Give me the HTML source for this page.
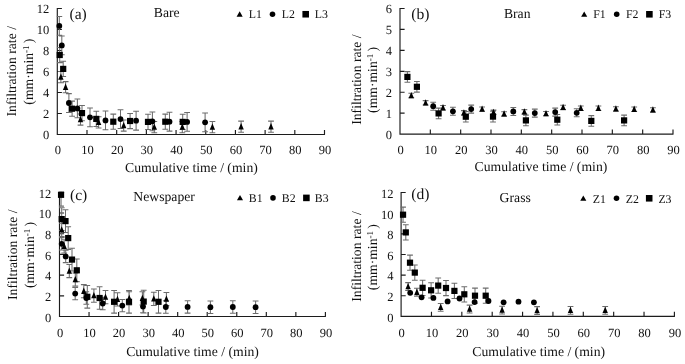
<!DOCTYPE html>
<html lang="en"><head><meta charset="utf-8"><title>Infiltration rate vs cumulative time</title>
<style>html,body{margin:0;padding:0;background:#fff;}body{width:685px;height:364px;overflow:hidden;}svg{display:block;will-change:transform;filter:grayscale(1);}text{font-family:"Liberation Serif", "Times New Roman", serif;font-size:13.7px;fill:#111;text-rendering:geometricPrecision;}.tag{font-size:15.6px;}.leg{font-size:11.8px;}.tk{font-size:12.5px;}.sup{font-size:9px;}</style></head><body>
<svg width="685" height="364" viewBox="0 0 685 364">
<rect width="685" height="364" fill="#fff"/>
<g id="panel-a">
<path d="M57.30 8.00V134.50H325.00M57.30 113.50h4.6M57.30 92.50h4.6M57.30 71.50h4.6M57.30 50.50h4.6M57.30 29.50h4.6M57.30 8.50h4.6M86.99 134.50v-4.6M116.68 134.50v-4.6M146.37 134.50v-4.6M176.06 134.50v-4.6M205.74 134.50v-4.6M235.43 134.50v-4.6M265.12 134.50v-4.6M294.81 134.50v-4.6M324.50 134.50v-4.6" fill="none" stroke="#1c1c1c" stroke-width="1.15"/>
<text class="tk" x="49.20" y="139.05" text-anchor="end">0</text>
<text class="tk" x="49.20" y="118.05" text-anchor="end">2</text>
<text class="tk" x="49.20" y="97.05" text-anchor="end">4</text>
<text class="tk" x="49.20" y="76.05" text-anchor="end">6</text>
<text class="tk" x="49.20" y="55.05" text-anchor="end">8</text>
<text class="tk" x="49.20" y="34.05" text-anchor="end">10</text>
<text class="tk" x="49.20" y="13.05" text-anchor="end">12</text>
<text class="tk" x="57.80" y="154.30" text-anchor="middle">0</text>
<text class="tk" x="87.49" y="154.30" text-anchor="middle">10</text>
<text class="tk" x="117.18" y="154.30" text-anchor="middle">20</text>
<text class="tk" x="146.87" y="154.30" text-anchor="middle">30</text>
<text class="tk" x="176.56" y="154.30" text-anchor="middle">40</text>
<text class="tk" x="206.24" y="154.30" text-anchor="middle">50</text>
<text class="tk" x="235.93" y="154.30" text-anchor="middle">60</text>
<text class="tk" x="265.62" y="154.30" text-anchor="middle">70</text>
<text class="tk" x="295.31" y="154.30" text-anchor="middle">80</text>
<text class="tk" x="325.00" y="154.30" text-anchor="middle">90</text>
<text x="191.45" y="171.50" text-anchor="middle">Cumulative time / (min)</text>
<text transform="translate(16.30 71.30) rotate(-90)" text-anchor="middle">Infiltration rate /</text>
<text transform="translate(32.70 71.60) rotate(-90)" text-anchor="middle">(mm·min<tspan class="sup" dy="-4">-1</tspan><tspan dy="4" dx="2.3">)</tspan></text>
<text class="tag" x="69.50" y="18.60">(a)</text>
<text x="166.70" y="17.10" text-anchor="middle">Bare</text>
<g fill="#000">
<polygon points="239.65,11.35 242.70,16.70 236.60,16.70"/>
<circle cx="272.50" cy="14.25" r="2.78"/>
<rect x="302.41" y="10.96" width="6.57" height="6.57"/>
</g>
<text class="leg" x="248.80" y="17.60">L1</text>
<text class="leg" x="281.85" y="17.60">L2</text>
<text class="leg" x="314.80" y="17.60">L3</text>
<clipPath id="clip-a"><rect x="56.70" y="7.90" width="268.40" height="126.60"/></clipPath>
<path clip-path="url(#clip-a)" d="M60.90 71.50V82.70M58.00 71.50H63.80M58.00 82.70H63.80M65.60 81.60V92.80M62.70 81.60H68.50M62.70 92.80H68.50M80.50 113.90V125.10M77.60 113.90H83.40M77.60 125.10H83.40M98.60 116.70V127.90M95.70 116.70H101.50M95.70 127.90H101.50M123.70 119.90V131.10M120.80 119.90H126.60M120.80 131.10H126.60M154.30 121.50V132.70M151.40 121.50H157.20M151.40 132.70H157.20M182.30 121.50V132.70M179.40 121.50H185.20M179.40 132.70H185.20M212.40 121.50V132.70M209.50 121.50H215.30M209.50 132.70H215.30M241.10 121.10V132.30M238.20 121.10H244.00M238.20 132.30H244.00M271.00 121.10V132.30M268.10 121.10H273.90M268.10 132.30H273.90M59.30 16.50V35.30M56.40 16.50H62.20M56.40 35.30H62.20M61.80 36.00V54.80M58.90 36.00H64.70M58.90 54.80H64.70M68.90 93.60V112.40M66.00 93.60H71.80M66.00 112.40H71.80M77.40 99.00V117.80M74.50 99.00H80.30M74.50 117.80H80.30M90.00 107.90V126.70M87.10 107.90H92.90M87.10 126.70H92.90M105.50 111.00V129.80M102.60 111.00H108.40M102.60 129.80H108.40M120.50 109.70V128.50M117.60 109.70H123.40M117.60 128.50H123.40M136.10 111.30V130.10M133.20 111.30H139.00M133.20 130.10H139.00M152.40 111.90V130.70M149.50 111.90H155.30M149.50 130.70H155.30M169.50 112.30V131.10M166.60 112.30H172.40M166.60 131.10H172.40M187.10 112.50V131.30M184.20 112.50H190.00M184.20 131.30H190.00M205.10 112.90V131.70M202.20 112.90H208.00M202.20 131.70H208.00M59.70 47.40V62.60M56.80 47.40H62.60M56.80 62.60H62.60M63.20 61.30V76.50M60.30 61.30H66.10M60.30 76.50H66.10M72.10 101.10V116.30M69.20 101.10H75.00M69.20 116.30H75.00M82.00 105.50V120.70M79.10 105.50H84.90M79.10 120.70H84.90M96.30 111.30V126.50M93.40 111.30H99.20M93.40 126.50H99.20M113.30 114.10V129.30M110.40 114.10H116.20M110.40 129.30H116.20M130.10 113.40V128.60M127.20 113.40H133.00M127.20 128.60H133.00M148.00 114.30V129.50M145.10 114.30H150.90M145.10 129.50H150.90M165.30 114.10V129.30M162.40 114.10H168.20M162.40 129.30H168.20M182.70 114.30V129.50M179.80 114.30H185.60M179.80 129.50H185.60" fill="none" stroke="#6c6c6c" stroke-width="1.05"/>
<g fill="#000"><polygon points="60.90,73.50 63.60,79.80 58.20,79.80"/><polygon points="65.60,83.60 68.30,89.90 62.90,89.90"/><polygon points="80.50,115.90 83.20,122.20 77.80,122.20"/><polygon points="98.60,118.70 101.30,125.00 95.90,125.00"/><polygon points="123.70,121.90 126.40,128.20 121.00,128.20"/><polygon points="154.30,123.50 157.00,129.80 151.60,129.80"/><polygon points="182.30,123.50 185.00,129.80 179.60,129.80"/><polygon points="212.40,123.50 215.10,129.80 209.70,129.80"/><polygon points="241.10,123.10 243.80,129.40 238.40,129.40"/><polygon points="271.00,123.10 273.70,129.40 268.30,129.40"/></g>
<g fill="#000"><circle cx="59.30" cy="25.90" r="2.90"/><circle cx="61.80" cy="45.40" r="2.90"/><circle cx="68.90" cy="103.00" r="2.90"/><circle cx="77.40" cy="108.40" r="2.90"/><circle cx="90.00" cy="117.30" r="2.90"/><circle cx="105.50" cy="120.40" r="2.90"/><circle cx="120.50" cy="119.10" r="2.90"/><circle cx="136.10" cy="120.70" r="2.90"/><circle cx="152.40" cy="121.30" r="2.90"/><circle cx="169.50" cy="121.70" r="2.90"/><circle cx="187.10" cy="121.90" r="2.90"/><circle cx="205.10" cy="122.30" r="2.90"/></g>
<g fill="#000"><rect x="56.60" y="51.90" width="6.20" height="6.20"/><rect x="60.10" y="65.80" width="6.20" height="6.20"/><rect x="69.00" y="105.60" width="6.20" height="6.20"/><rect x="78.90" y="110.00" width="6.20" height="6.20"/><rect x="93.20" y="115.80" width="6.20" height="6.20"/><rect x="110.20" y="118.60" width="6.20" height="6.20"/><rect x="127.00" y="117.90" width="6.20" height="6.20"/><rect x="144.90" y="118.80" width="6.20" height="6.20"/><rect x="162.20" y="118.60" width="6.20" height="6.20"/><rect x="179.60" y="118.80" width="6.20" height="6.20"/></g>
</g>
<g id="panel-b">
<path d="M400.00 8.00V134.10H673.50M400.00 113.17h4.6M400.00 92.23h4.6M400.00 71.30h4.6M400.00 50.37h4.6M400.00 29.43h4.6M400.00 8.50h4.6M430.33 134.10v-4.6M460.67 134.10v-4.6M491.00 134.10v-4.6M521.33 134.10v-4.6M551.67 134.10v-4.6M582.00 134.10v-4.6M612.33 134.10v-4.6M642.67 134.10v-4.6M673.00 134.10v-4.6" fill="none" stroke="#1c1c1c" stroke-width="1.15"/>
<text class="tk" x="392.10" y="138.65" text-anchor="end">0</text>
<text class="tk" x="392.10" y="117.72" text-anchor="end">1</text>
<text class="tk" x="392.10" y="96.78" text-anchor="end">2</text>
<text class="tk" x="392.10" y="75.85" text-anchor="end">3</text>
<text class="tk" x="392.10" y="54.92" text-anchor="end">4</text>
<text class="tk" x="392.10" y="33.98" text-anchor="end">5</text>
<text class="tk" x="392.10" y="13.05" text-anchor="end">6</text>
<text class="tk" x="400.50" y="154.00" text-anchor="middle">0</text>
<text class="tk" x="430.83" y="154.00" text-anchor="middle">10</text>
<text class="tk" x="461.17" y="154.00" text-anchor="middle">20</text>
<text class="tk" x="491.50" y="154.00" text-anchor="middle">30</text>
<text class="tk" x="521.83" y="154.00" text-anchor="middle">40</text>
<text class="tk" x="552.17" y="154.00" text-anchor="middle">50</text>
<text class="tk" x="582.50" y="154.00" text-anchor="middle">60</text>
<text class="tk" x="612.83" y="154.00" text-anchor="middle">70</text>
<text class="tk" x="643.17" y="154.00" text-anchor="middle">80</text>
<text class="tk" x="673.50" y="154.00" text-anchor="middle">90</text>
<text x="540.95" y="171.40" text-anchor="middle">Cumulative time / (min)</text>
<text transform="translate(360.60 79.60) rotate(-90)" text-anchor="middle">Infiltration rate /</text>
<text transform="translate(377.00 79.90) rotate(-90)" text-anchor="middle">(mm·min<tspan class="sup" dy="-4">-1</tspan><tspan dy="4" dx="2.3">)</tspan></text>
<text class="tag" x="411.30" y="18.90">(b)</text>
<text x="517.20" y="18.00" text-anchor="middle">Bran</text>
<g fill="#000">
<polygon points="584.20,11.40 587.25,16.75 581.15,16.75"/>
<circle cx="616.70" cy="14.30" r="2.78"/>
<rect x="646.11" y="11.01" width="6.57" height="6.57"/>
</g>
<text class="leg" x="593.30" y="17.60">F1</text>
<text class="leg" x="626.00" y="17.60">F2</text>
<text class="leg" x="658.80" y="17.60">F3</text>
<clipPath id="clip-b"><rect x="399.40" y="7.90" width="274.20" height="126.20"/></clipPath>
<path clip-path="url(#clip-b)" d="M411.30 93.30V97.70M408.40 93.30H414.20M408.40 97.70H414.20M425.60 100.60V105.00M422.70 100.60H428.50M422.70 105.00H428.50M443.00 105.50V109.90M440.10 105.50H445.90M440.10 109.90H445.90M463.90 110.60V115.00M461.00 110.60H466.80M461.00 115.00H466.80M482.10 106.90V111.30M479.20 106.90H485.00M479.20 111.30H485.00M493.50 110.10V114.50M490.60 110.10H496.40M490.60 114.50H496.40M504.10 111.70V116.10M501.20 111.70H507.00M501.20 116.10H507.00M524.40 109.60V114.00M521.50 109.60H527.30M521.50 114.00H527.30M546.00 111.40V115.80M543.10 111.40H548.90M543.10 115.80H548.90M563.10 105.20V109.60M560.20 105.20H566.00M560.20 109.60H566.00M580.80 106.00V110.40M577.90 106.00H583.70M577.90 110.40H583.70M598.40 106.00V110.40M595.50 106.00H601.30M595.50 110.40H601.30M615.90 106.70V111.10M613.00 106.70H618.80M613.00 111.10H618.80M634.20 107.00V111.40M631.30 107.00H637.10M631.30 111.40H637.10M652.90 107.70V112.10M650.00 107.70H655.80M650.00 112.10H655.80M433.20 102.20V110.20M430.30 102.20H436.10M430.30 110.20H436.10M452.90 107.30V115.30M450.00 107.30H455.80M450.00 115.30H455.80M471.20 105.10V113.10M468.30 105.10H474.10M468.30 113.10H474.10M513.30 107.40V115.40M510.40 107.40H516.20M510.40 115.40H516.20M534.80 109.10V117.10M531.90 109.10H537.70M531.90 117.10H537.70M555.20 108.10V116.10M552.30 108.10H558.10M552.30 116.10H558.10M576.70 108.80V116.80M573.80 108.80H579.60M573.80 116.80H579.60M407.40 71.60V82.20M404.50 71.60H410.30M404.50 82.20H410.30M416.90 81.50V92.10M414.00 81.50H419.80M414.00 92.10H419.80M438.60 108.10V118.70M435.70 108.10H441.50M435.70 118.70H441.50M465.80 111.40V122.00M462.90 111.40H468.70M462.90 122.00H468.70M493.00 111.30V121.90M490.10 111.30H495.90M490.10 121.90H495.90M525.90 115.10V125.70M523.00 115.10H528.80M523.00 125.70H528.80M557.30 114.40V125.00M554.40 114.40H560.20M554.40 125.00H560.20M591.30 115.60V126.20M588.40 115.60H594.20M588.40 126.20H594.20M624.10 115.10V125.70M621.20 115.10H627.00M621.20 125.70H627.00" fill="none" stroke="#6c6c6c" stroke-width="1.05"/>
<g fill="#000"><polygon points="411.30,91.90 414.00,98.20 408.60,98.20"/><polygon points="425.60,99.20 428.30,105.50 422.90,105.50"/><polygon points="443.00,104.10 445.70,110.40 440.30,110.40"/><polygon points="463.90,109.20 466.60,115.50 461.20,115.50"/><polygon points="482.10,105.50 484.80,111.80 479.40,111.80"/><polygon points="493.50,108.70 496.20,115.00 490.80,115.00"/><polygon points="504.10,110.30 506.80,116.60 501.40,116.60"/><polygon points="524.40,108.20 527.10,114.50 521.70,114.50"/><polygon points="546.00,110.00 548.70,116.30 543.30,116.30"/><polygon points="563.10,103.80 565.80,110.10 560.40,110.10"/><polygon points="580.80,104.60 583.50,110.90 578.10,110.90"/><polygon points="598.40,104.60 601.10,110.90 595.70,110.90"/><polygon points="615.90,105.30 618.60,111.60 613.20,111.60"/><polygon points="634.20,105.60 636.90,111.90 631.50,111.90"/><polygon points="652.90,106.30 655.60,112.60 650.20,112.60"/></g>
<g fill="#000"><circle cx="433.20" cy="106.20" r="2.90"/><circle cx="452.90" cy="111.30" r="2.90"/><circle cx="471.20" cy="109.10" r="2.90"/><circle cx="513.30" cy="111.40" r="2.90"/><circle cx="534.80" cy="113.10" r="2.90"/><circle cx="555.20" cy="112.10" r="2.90"/><circle cx="576.70" cy="112.80" r="2.90"/></g>
<g fill="#000"><rect x="404.30" y="73.80" width="6.20" height="6.20"/><rect x="413.80" y="83.70" width="6.20" height="6.20"/><rect x="435.50" y="110.30" width="6.20" height="6.20"/><rect x="462.70" y="113.60" width="6.20" height="6.20"/><rect x="489.90" y="113.50" width="6.20" height="6.20"/><rect x="522.80" y="117.30" width="6.20" height="6.20"/><rect x="554.20" y="116.60" width="6.20" height="6.20"/><rect x="588.20" y="117.80" width="6.20" height="6.20"/><rect x="621.00" y="117.30" width="6.20" height="6.20"/></g>
</g>
<g id="panel-c">
<path d="M59.50 191.80V316.50H325.90M59.50 295.80h4.6M59.50 275.10h4.6M59.50 254.40h4.6M59.50 233.70h4.6M59.50 213.00h4.6M59.50 192.30h4.6M89.04 316.50v-4.6M118.59 316.50v-4.6M148.13 316.50v-4.6M177.68 316.50v-4.6M207.22 316.50v-4.6M236.77 316.50v-4.6M266.31 316.50v-4.6M295.86 316.50v-4.6M325.40 316.50v-4.6" fill="none" stroke="#1c1c1c" stroke-width="1.15"/>
<text class="tk" x="51.30" y="321.85" text-anchor="end">0</text>
<text class="tk" x="51.30" y="301.15" text-anchor="end">2</text>
<text class="tk" x="51.30" y="280.45" text-anchor="end">4</text>
<text class="tk" x="51.30" y="259.75" text-anchor="end">6</text>
<text class="tk" x="51.30" y="239.05" text-anchor="end">8</text>
<text class="tk" x="51.30" y="218.35" text-anchor="end">10</text>
<text class="tk" x="51.30" y="197.65" text-anchor="end">12</text>
<text class="tk" x="60.00" y="337.00" text-anchor="middle">0</text>
<text class="tk" x="89.54" y="337.00" text-anchor="middle">10</text>
<text class="tk" x="119.09" y="337.00" text-anchor="middle">20</text>
<text class="tk" x="148.63" y="337.00" text-anchor="middle">30</text>
<text class="tk" x="178.18" y="337.00" text-anchor="middle">40</text>
<text class="tk" x="207.72" y="337.00" text-anchor="middle">50</text>
<text class="tk" x="237.27" y="337.00" text-anchor="middle">60</text>
<text class="tk" x="266.81" y="337.00" text-anchor="middle">70</text>
<text class="tk" x="296.36" y="337.00" text-anchor="middle">80</text>
<text class="tk" x="325.90" y="337.00" text-anchor="middle">90</text>
<text x="192.55" y="356.20" text-anchor="middle">Cumulative time / (min)</text>
<text transform="translate(17.15 254.75) rotate(-90)" text-anchor="middle">Infiltration rate /</text>
<text transform="translate(33.60 254.95) rotate(-90)" text-anchor="middle">(mm·min<tspan class="sup" dy="-4">-1</tspan><tspan dy="4" dx="2.3">)</tspan></text>
<text class="tag" x="70.00" y="199.60">(c)</text>
<text x="164.10" y="201.40" text-anchor="middle">Newspaper</text>
<g fill="#000">
<polygon points="240.00,195.00 243.05,200.35 236.95,200.35"/>
<circle cx="273.00" cy="197.90" r="2.78"/>
<rect x="303.11" y="194.61" width="6.57" height="6.57"/>
</g>
<text class="leg" x="248.80" y="202.10">B1</text>
<text class="leg" x="281.85" y="202.10">B2</text>
<text class="leg" x="314.80" y="202.10">B3</text>
<clipPath id="clip-c"><rect x="58.90" y="191.70" width="267.10" height="124.80"/></clipPath>
<path clip-path="url(#clip-c)" d="M61.70 223.30V236.50M58.80 223.30H64.60M58.80 236.50H64.60M64.20 239.70V252.90M61.30 239.70H67.10M61.30 252.90H67.10M69.30 264.40V277.60M66.40 264.40H72.20M66.40 277.60H72.20M75.30 272.90V286.10M72.40 272.90H78.20M72.40 286.10H78.20M83.80 284.60V297.80M80.90 284.60H86.70M80.90 297.80H86.70M93.90 289.00V302.20M91.00 289.00H96.80M91.00 302.20H96.80M105.50 290.50V303.70M102.60 290.50H108.40M102.60 303.70H108.40M117.50 292.70V305.90M114.60 292.70H120.40M114.60 305.90H120.40M129.20 291.80V305.00M126.30 291.80H132.10M126.30 305.00H132.10M142.40 291.80V305.00M139.50 291.80H145.30M139.50 305.00H145.30M153.80 292.20V305.40M150.90 292.20H156.70M150.90 305.40H156.70M166.40 292.40V305.60M163.50 292.40H169.30M163.50 305.60H169.30M61.70 237.60V250.00M58.80 237.60H64.60M58.80 250.00H64.60M65.70 250.20V262.60M62.80 250.20H68.60M62.80 262.60H68.60M75.20 287.40V299.80M72.30 287.40H78.10M72.30 299.80H78.10M86.30 291.80V304.20M83.40 291.80H89.20M83.40 304.20H89.20M102.70 297.30V309.70M99.80 297.30H105.60M99.80 309.70H105.60M122.30 299.40V311.80M119.40 299.40H125.20M119.40 311.80H125.20M143.00 300.40V312.80M140.10 300.40H145.90M140.10 312.80H145.90M165.80 300.80V313.20M162.90 300.80H168.70M162.90 313.20H168.70M187.60 300.70V313.10M184.70 300.70H190.50M184.70 313.10H190.50M210.40 301.00V313.40M207.50 301.00H213.30M207.50 313.40H213.30M232.80 300.80V313.20M229.90 300.80H235.70M229.90 313.20H235.70M255.60 301.00V313.40M252.70 301.00H258.50M252.70 313.40H258.50M61.05 183.50V206.10M58.15 183.50H63.95M58.15 206.10H63.95M61.70 207.80V230.40M58.80 207.80H64.60M58.80 230.40H64.60M65.50 209.80V232.40M62.60 209.80H68.40M62.60 232.40H68.40M68.20 226.80V249.40M65.30 226.80H71.10M65.30 249.40H71.10M72.00 248.30V270.90M69.10 248.30H74.90M69.10 270.90H74.90M76.80 259.00V281.60M73.90 259.00H79.70M73.90 281.60H79.70M87.30 285.50V308.10M84.40 285.50H90.20M84.40 308.10H90.20M99.60 286.70V309.30M96.70 286.70H102.50M96.70 309.30H102.50M114.10 290.50V313.10M111.20 290.50H117.00M111.20 313.10H117.00M129.00 290.50V313.10M126.10 290.50H131.90M126.10 313.10H131.90M143.70 290.30V312.90M140.80 290.30H146.60M140.80 312.90H146.60M158.50 290.50V313.10M155.60 290.50H161.40M155.60 313.10H161.40" fill="none" stroke="#6c6c6c" stroke-width="1.05"/>
<g fill="#000"><polygon points="61.70,226.30 64.40,232.60 59.00,232.60"/><polygon points="64.20,242.70 66.90,249.00 61.50,249.00"/><polygon points="69.30,267.40 72.00,273.70 66.60,273.70"/><polygon points="75.30,275.90 78.00,282.20 72.60,282.20"/><polygon points="83.80,287.60 86.50,293.90 81.10,293.90"/><polygon points="93.90,292.00 96.60,298.30 91.20,298.30"/><polygon points="105.50,293.50 108.20,299.80 102.80,299.80"/><polygon points="117.50,295.70 120.20,302.00 114.80,302.00"/><polygon points="129.20,294.80 131.90,301.10 126.50,301.10"/><polygon points="142.40,294.80 145.10,301.10 139.70,301.10"/><polygon points="153.80,295.20 156.50,301.50 151.10,301.50"/><polygon points="166.40,295.40 169.10,301.70 163.70,301.70"/></g>
<g fill="#000"><circle cx="61.70" cy="243.80" r="2.90"/><circle cx="65.70" cy="256.40" r="2.90"/><circle cx="75.20" cy="293.60" r="2.90"/><circle cx="86.30" cy="298.00" r="2.90"/><circle cx="102.70" cy="303.50" r="2.90"/><circle cx="122.30" cy="305.60" r="2.90"/><circle cx="143.00" cy="306.60" r="2.90"/><circle cx="165.80" cy="307.00" r="2.90"/><circle cx="187.60" cy="306.90" r="2.90"/><circle cx="210.40" cy="307.20" r="2.90"/><circle cx="232.80" cy="307.00" r="2.90"/><circle cx="255.60" cy="307.20" r="2.90"/></g>
<g fill="#000"><rect x="57.95" y="191.70" width="6.20" height="6.20"/><rect x="58.60" y="216.00" width="6.20" height="6.20"/><rect x="62.40" y="218.00" width="6.20" height="6.20"/><rect x="65.10" y="235.00" width="6.20" height="6.20"/><rect x="68.90" y="256.50" width="6.20" height="6.20"/><rect x="73.70" y="267.20" width="6.20" height="6.20"/><rect x="84.20" y="293.70" width="6.20" height="6.20"/><rect x="96.50" y="294.90" width="6.20" height="6.20"/><rect x="111.00" y="298.70" width="6.20" height="6.20"/><rect x="125.90" y="298.70" width="6.20" height="6.20"/><rect x="140.60" y="298.50" width="6.20" height="6.20"/><rect x="155.40" y="298.70" width="6.20" height="6.20"/></g>
</g>
<g id="panel-d">
<path d="M401.10 192.00V316.40H674.90M401.10 295.75h4.6M401.10 275.10h4.6M401.10 254.45h4.6M401.10 233.80h4.6M401.10 213.15h4.6M401.10 192.50h4.6M431.47 316.40v-4.6M461.83 316.40v-4.6M492.20 316.40v-4.6M522.57 316.40v-4.6M552.93 316.40v-4.6M583.30 316.40v-4.6M613.67 316.40v-4.6M644.03 316.40v-4.6M674.40 316.40v-4.6" fill="none" stroke="#1c1c1c" stroke-width="1.15"/>
<text class="tk" x="393.50" y="321.75" text-anchor="end">0</text>
<text class="tk" x="393.50" y="301.10" text-anchor="end">2</text>
<text class="tk" x="393.50" y="280.45" text-anchor="end">4</text>
<text class="tk" x="393.50" y="259.80" text-anchor="end">6</text>
<text class="tk" x="393.50" y="239.15" text-anchor="end">8</text>
<text class="tk" x="393.50" y="218.50" text-anchor="end">10</text>
<text class="tk" x="393.50" y="197.85" text-anchor="end">12</text>
<text class="tk" x="401.60" y="337.00" text-anchor="middle">0</text>
<text class="tk" x="431.97" y="337.00" text-anchor="middle">10</text>
<text class="tk" x="462.33" y="337.00" text-anchor="middle">20</text>
<text class="tk" x="492.70" y="337.00" text-anchor="middle">30</text>
<text class="tk" x="523.07" y="337.00" text-anchor="middle">40</text>
<text class="tk" x="553.43" y="337.00" text-anchor="middle">50</text>
<text class="tk" x="583.80" y="337.00" text-anchor="middle">60</text>
<text class="tk" x="614.17" y="337.00" text-anchor="middle">70</text>
<text class="tk" x="644.53" y="337.00" text-anchor="middle">80</text>
<text class="tk" x="674.90" y="337.00" text-anchor="middle">90</text>
<text x="538.70" y="356.20" text-anchor="middle">Cumulative time / (min)</text>
<text transform="translate(360.60 256.55) rotate(-90)" text-anchor="middle">Infiltration rate /</text>
<text transform="translate(377.00 257.15) rotate(-90)" text-anchor="middle">(mm·min<tspan class="sup" dy="-4">-1</tspan><tspan dy="4" dx="2.3">)</tspan></text>
<text class="tag" x="411.30" y="199.30">(d)</text>
<text x="515.20" y="202.40" text-anchor="middle">Grass</text>
<g fill="#000">
<polygon points="583.30,195.40 586.35,200.75 580.25,200.75"/>
<circle cx="616.50" cy="198.30" r="2.78"/>
<rect x="645.91" y="195.01" width="6.57" height="6.57"/>
</g>
<text class="leg" x="592.80" y="202.50">Z1</text>
<text class="leg" x="625.70" y="202.50">Z2</text>
<text class="leg" x="658.40" y="202.50">Z3</text>
<clipPath id="clip-d"><rect x="400.50" y="191.90" width="274.50" height="124.50"/></clipPath>
<path clip-path="url(#clip-d)" d="M408.10 282.60V290.40M405.20 282.60H411.00M405.20 290.40H411.00M416.90 288.30V296.10M414.00 288.30H419.80M414.00 296.10H419.80M440.70 303.50V311.30M437.80 303.50H443.60M437.80 311.30H443.60M469.60 305.10V312.90M466.70 305.10H472.50M466.70 312.90H472.50M502.10 306.20V314.00M499.20 306.20H505.00M499.20 314.00H505.00M537.10 306.60V314.40M534.20 306.60H540.00M534.20 314.40H540.00M570.50 306.40V314.20M567.60 306.40H573.40M567.60 314.20H573.40M605.20 306.40V314.20M602.30 306.40H608.10M602.30 314.20H608.10M403.05 207.10V222.30M400.15 207.10H405.95M400.15 222.30H405.95M405.80 224.80V240.00M402.90 224.80H408.70M402.90 240.00H408.70M410.00 255.10V270.30M407.10 255.10H412.90M407.10 270.30H412.90M414.80 265.00V280.20M411.90 265.00H417.70M411.90 280.20H417.70M422.60 280.20V295.40M419.70 280.20H425.50M419.70 295.40H425.50M431.10 282.70V297.90M428.20 282.70H434.00M428.20 297.90H434.00M438.20 278.00V293.20M435.30 278.00H441.10M435.30 293.20H441.10M446.00 280.40V295.60M443.10 280.40H448.90M443.10 295.60H448.90M454.40 283.30V298.50M451.50 283.30H457.30M451.50 298.50H457.30M464.30 286.70V301.90M461.40 286.70H467.20M461.40 301.90H467.20M475.00 288.10V303.30M472.10 288.10H477.90M472.10 303.30H477.90M485.70 288.10V303.30M482.80 288.10H488.60M482.80 303.30H488.60" fill="none" stroke="#6c6c6c" stroke-width="1.05"/>
<g fill="#000"><polygon points="408.10,282.90 410.80,289.20 405.40,289.20"/><polygon points="416.90,288.60 419.60,294.90 414.20,294.90"/><polygon points="440.70,303.80 443.40,310.10 438.00,310.10"/><polygon points="469.60,305.40 472.30,311.70 466.90,311.70"/><polygon points="502.10,306.50 504.80,312.80 499.40,312.80"/><polygon points="537.10,306.90 539.80,313.20 534.40,313.20"/><polygon points="570.50,306.70 573.20,313.00 567.80,313.00"/><polygon points="605.20,306.70 607.90,313.00 602.50,313.00"/></g>
<g fill="#000"><circle cx="410.20" cy="292.80" r="2.90"/><circle cx="421.60" cy="297.30" r="2.90"/><circle cx="433.40" cy="297.90" r="2.90"/><circle cx="447.60" cy="301.40" r="2.90"/><circle cx="459.50" cy="298.50" r="2.90"/><circle cx="474.60" cy="302.10" r="2.90"/><circle cx="488.50" cy="301.00" r="2.90"/><circle cx="503.60" cy="302.30" r="2.90"/><circle cx="518.50" cy="301.70" r="2.90"/><circle cx="533.90" cy="302.30" r="2.90"/></g>
<g fill="#000"><rect x="399.95" y="211.60" width="6.20" height="6.20"/><rect x="402.70" y="229.30" width="6.20" height="6.20"/><rect x="406.90" y="259.60" width="6.20" height="6.20"/><rect x="411.70" y="269.50" width="6.20" height="6.20"/><rect x="419.50" y="284.70" width="6.20" height="6.20"/><rect x="428.00" y="287.20" width="6.20" height="6.20"/><rect x="435.10" y="282.50" width="6.20" height="6.20"/><rect x="442.90" y="284.90" width="6.20" height="6.20"/><rect x="451.30" y="287.80" width="6.20" height="6.20"/><rect x="461.20" y="291.20" width="6.20" height="6.20"/><rect x="471.90" y="292.60" width="6.20" height="6.20"/><rect x="482.60" y="292.60" width="6.20" height="6.20"/></g>
</g>
</svg></body></html>
